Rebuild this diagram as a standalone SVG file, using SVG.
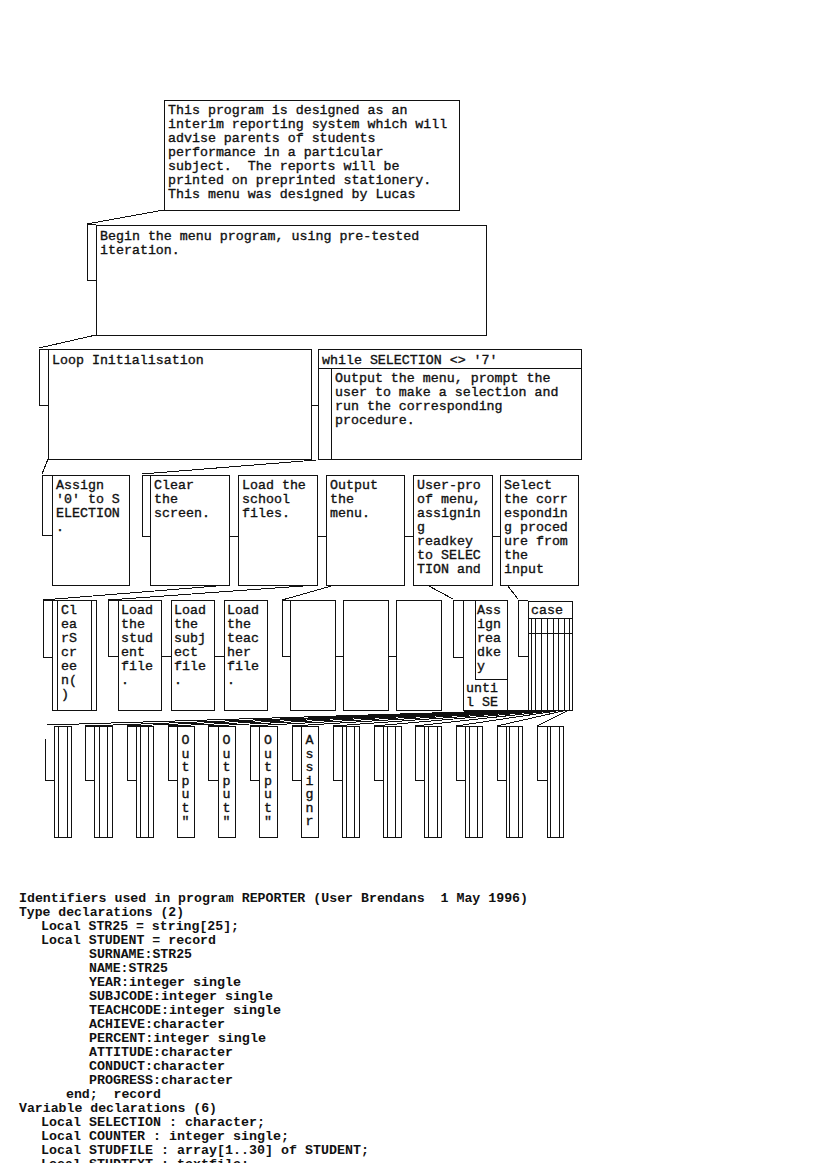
<svg xmlns="http://www.w3.org/2000/svg" width="827" height="1170" viewBox="0 0 827 1170" xml:space="preserve">
<defs>
<style>
rect, line, polyline, path { fill: none; stroke: #111; stroke-width: 1; shape-rendering: crispEdges; }
.c { fill: none; stroke: #111; stroke-width: 1; }
.bx { fill: #fff; }
text { font-family: "Liberation Mono", "DejaVu Sans Mono", monospace; font-size: 13.3px; fill: #111; stroke: #111; stroke-width: 0.35; white-space: pre; }
text.v { text-anchor: middle; }
.lst { font-family: "Liberation Mono", "DejaVu Sans Mono", monospace; font-size: 13.5px; font-weight: bold; fill: #111; stroke: none; white-space: pre; }
</style>
<clipPath id="pagecut"><rect x="0" y="0" width="827" height="1163"/></clipPath>
</defs>
<rect x="0" y="0" width="827" height="1170" style="fill:#fff;stroke:none"/>

<g id="connectors">
  <line class="c" x1="164" y1="210" x2="87" y2="224"/>
  <polyline points="96,224 87,224 87,280 96,280"/>
  <line class="c" x1="96" y1="335" x2="39" y2="348"/>
  <polyline points="48,349 39,349 39,405 48,405"/>
  <line x1="311" y1="405" x2="318" y2="405"/>
  <line class="c" x1="48" y1="459" x2="42" y2="474"/>
  <polyline points="52,475 42,475 42,535 52,535"/>
  <line class="c" x1="316" y1="460" x2="142" y2="474"/>
  <polyline points="150,475 142,475 142,536 150,536"/>
  <line x1="229" y1="536" x2="238" y2="536"/>
  <line x1="317" y1="536" x2="326" y2="536"/>
  <line x1="404" y1="536" x2="413" y2="536"/>
  <line x1="492" y1="536" x2="500" y2="536"/>
  <line class="c" x1="229" y1="585" x2="43" y2="600"/>
  <polyline points="52,600 43,600 43,657 52,657"/>
  <line class="c" x1="317" y1="585" x2="108" y2="600"/>
  <polyline points="118,600 108,600 108,656 118,656"/>
  <line x1="161" y1="656" x2="171" y2="656"/>
  <line x1="214" y1="656" x2="224" y2="656"/>
  <line class="c" x1="335" y1="585" x2="282" y2="600"/>
  <polyline points="290,600 282,600 282,656 290,656"/>
  <line x1="335" y1="656" x2="343" y2="656"/>
  <line x1="388" y1="656" x2="396" y2="656"/>
  <line class="c" x1="427" y1="585" x2="453" y2="599"/>
  <polyline points="463,600 453,600 453,657 463,657"/>
  <line class="c" x1="507" y1="585" x2="518" y2="599"/>
  <polyline points="528,600 518,600 518,656 528,656"/>
  <line class="c" x1="529" y1="710" x2="47" y2="725"/>
  <line class="c" x1="532" y1="710" x2="85" y2="726"/>
  <line class="c" x1="536" y1="710" x2="127" y2="726"/>
  <line class="c" x1="539" y1="710" x2="168" y2="726"/>
  <line class="c" x1="542" y1="710" x2="208" y2="726"/>
  <line class="c" x1="546" y1="710" x2="250" y2="726"/>
  <line class="c" x1="549" y1="710" x2="292" y2="726"/>
  <line class="c" x1="553" y1="710" x2="333" y2="726"/>
  <line class="c" x1="556" y1="710" x2="374" y2="726"/>
  <line class="c" x1="560" y1="710" x2="415" y2="726"/>
  <line class="c" x1="563" y1="710" x2="456" y2="726"/>
  <line class="c" x1="567" y1="710" x2="497" y2="726"/>
  <line class="c" x1="571" y1="709" x2="537" y2="726"/>
  <polyline points="45,739 45,780 54,780"/>
  <polyline points="94,726 85,726 85,780 94,780"/>
  <polyline points="136,726 127,726 127,780 136,780"/>
  <polyline points="177,726 168,726 168,780 177,780"/>
  <polyline points="218,726 208,726 208,780 218,780"/>
  <polyline points="259,726 250,726 250,780 259,780"/>
  <polyline points="301,726 292,726 292,780 301,780"/>
  <polyline points="342,726 333,726 333,780 342,780"/>
  <polyline points="383,726 374,726 374,780 383,780"/>
  <polyline points="424,726 415,726 415,780 424,780"/>
  <polyline points="465,726 456,726 456,780 465,780"/>
  <polyline points="506,726 497,726 497,780 506,780"/>
  <polyline points="547,726 537,726 537,780 547,780"/>
</g>

<g id="n-intro">
  <rect class="bx" x="164" y="100" width="295" height="110"/>
  <text x="168" y="114">This program is designed as an</text>
  <text x="168" y="128">interim reporting system which will</text>
  <text x="168" y="142">advise parents of students</text>
  <text x="168" y="156">performance in a particular</text>
  <text x="168" y="170">subject.  The reports will be</text>
  <text x="168" y="184">printed on preprinted stationery.</text>
  <text x="168" y="198">This menu was designed by Lucas</text>
</g>

<g id="n-begin">
  <rect class="bx" x="96" y="225" width="390" height="110"/>
  <text x="100" y="240">Begin the menu program, using pre-tested</text>
  <text x="100" y="254">iteration.</text>
</g>

<g id="n-loopinit">
  <rect class="bx" x="48" y="349" width="263" height="110"/>
  <text x="52" y="364">Loop Initialisation</text>
</g>

<g id="n-while">
  <rect class="bx" x="318" y="349" width="263" height="110"/>
  <line x1="318" y1="368" x2="581" y2="368"/>
  <text x="322" y="364">while SELECTION &lt;&gt; '7'</text>
  <rect class="bx" x="331" y="368" width="250" height="91"/>
  <text x="335" y="382">Output the menu, prompt the</text>
  <text x="335" y="396">user to make a selection and</text>
  <text x="335" y="410">run the corresponding</text>
  <text x="335" y="424">procedure.</text>
</g>

<g id="n-assign0">
  <rect class="bx" x="52" y="475" width="77" height="110"/>
  <text x="56" y="489">Assign</text>
  <text x="56" y="503">'0' to S</text>
  <text x="56" y="517">ELECTION</text>
  <text x="56" y="531">.</text>
</g>
<g id="n-clear">
  <rect class="bx" x="150" y="475" width="79" height="110"/>
  <text x="154" y="489">Clear</text>
  <text x="154" y="503">the</text>
  <text x="154" y="517">screen.</text>
</g>
<g id="n-loadschool">
  <rect class="bx" x="238" y="475" width="79" height="110"/>
  <text x="242" y="489">Load the</text>
  <text x="242" y="503">school</text>
  <text x="242" y="517">files.</text>
</g>
<g id="n-outputmenu">
  <rect class="bx" x="326" y="475" width="78" height="110"/>
  <text x="330" y="489">Output</text>
  <text x="330" y="503">the</text>
  <text x="330" y="517">menu.</text>
</g>
<g id="n-userprompt">
  <rect class="bx" x="413" y="475" width="79" height="110"/>
  <text x="417" y="489">User-pro</text>
  <text x="417" y="503">of menu,</text>
  <text x="417" y="517">assignin</text>
  <text x="417" y="531">g</text>
  <text x="417" y="545">readkey</text>
  <text x="417" y="559">to SELEC</text>
  <text x="417" y="573">TION and</text>
</g>
<g id="n-select">
  <rect class="bx" x="500" y="475" width="78" height="110"/>
  <text x="504" y="489">Select</text>
  <text x="504" y="503">the corr</text>
  <text x="504" y="517">espondin</text>
  <text x="504" y="531">g proced</text>
  <text x="504" y="545">ure from</text>
  <text x="504" y="559">the</text>
  <text x="504" y="573">input</text>
</g>

<g id="n-clearscreen">
  <rect class="bx" x="52" y="600" width="44" height="110"/>
  <line x1="57" y1="600" x2="57" y2="710"/>
  <line x1="91" y1="600" x2="91" y2="710"/>
  <text x="61" y="614">Cl</text>
  <text x="61" y="628">ea</text>
  <text x="61" y="642">rS</text>
  <text x="61" y="656">cr</text>
  <text x="61" y="670">ee</text>
  <text x="61" y="684">n(</text>
  <text x="61" y="698">)</text>
</g>
<g id="n-loadstudent">
  <rect class="bx" x="118" y="600" width="43" height="110"/>
  <text x="121" y="614">Load</text>
  <text x="121" y="628">the</text>
  <text x="121" y="642">stud</text>
  <text x="121" y="656">ent</text>
  <text x="121" y="670">file</text>
  <text x="121" y="684">.</text>
</g>
<g id="n-loadsubject">
  <rect class="bx" x="171" y="600" width="43" height="110"/>
  <text x="174" y="614">Load</text>
  <text x="174" y="628">the</text>
  <text x="174" y="642">subj</text>
  <text x="174" y="656">ect</text>
  <text x="174" y="670">file</text>
  <text x="174" y="684">.</text>
</g>
<g id="n-loadteacher">
  <rect class="bx" x="224" y="600" width="43" height="110"/>
  <text x="227" y="614">Load</text>
  <text x="227" y="628">the</text>
  <text x="227" y="642">teac</text>
  <text x="227" y="656">her</text>
  <text x="227" y="670">file</text>
  <text x="227" y="684">.</text>
</g>
<g id="n-empty1"><rect class="bx" x="290" y="600" width="45" height="110"/></g>
<g id="n-empty2"><rect class="bx" x="343" y="600" width="45" height="110"/></g>
<g id="n-empty3"><rect class="bx" x="396" y="600" width="45" height="110"/></g>
<g id="n-repeat">
  <rect class="bx" x="463" y="600" width="44" height="110"/>
  <rect class="bx" x="475" y="600" width="32" height="79"/>
  <text x="477" y="614">Ass</text>
  <text x="477" y="628">ign</text>
  <text x="477" y="642">rea</text>
  <text x="477" y="656">dke</text>
  <text x="477" y="670">y</text>
  <text x="466" y="692">unti</text>
  <text x="466" y="706">l SE</text>
</g>
<g id="n-case">
  <rect class="bx" x="528" y="601" width="44" height="109"/>
  <line x1="528" y1="618" x2="572" y2="618"/>
  <line x1="528" y1="633" x2="572" y2="633"/>
  <line x1="531" y1="618" x2="531" y2="710"/>
  <line x1="535" y1="618" x2="535" y2="710"/>
  <line x1="541" y1="618" x2="541" y2="710"/>
  <line x1="547" y1="618" x2="547" y2="710"/>
  <line x1="553" y1="618" x2="553" y2="710"/>
  <line x1="558" y1="618" x2="558" y2="710"/>
  <line x1="564" y1="618" x2="564" y2="710"/>
  <line x1="569" y1="618" x2="569" y2="710"/>
  <text x="531" y="614">case</text>
</g>

<g id="n-r5-1"><rect class="bx" x="54" y="726" width="17" height="111"/><line x1="58" y1="726" x2="58" y2="837"/><line x1="67" y1="726" x2="67" y2="837"/></g>
<g id="n-r5-2"><rect class="bx" x="94" y="726" width="18" height="111"/><line x1="99" y1="726" x2="99" y2="837"/><line x1="107" y1="726" x2="107" y2="837"/></g>
<g id="n-r5-3"><rect class="bx" x="136" y="726" width="17" height="111"/><line x1="140" y1="726" x2="140" y2="837"/><line x1="148" y1="726" x2="148" y2="837"/></g>
<g id="n-r5-4"><rect class="bx" x="177" y="726" width="17" height="111"/>
  <text class="v" x="185.5" y="744">O</text><text class="v" x="185.5" y="757.5">u</text><text class="v" x="185.5" y="771">t</text><text class="v" x="185.5" y="784.5">p</text><text class="v" x="185.5" y="798">u</text><text class="v" x="185.5" y="811.5">t</text><text class="v" x="185.5" y="825">"</text></g>
<g id="n-r5-5"><rect class="bx" x="218" y="726" width="17" height="111"/>
  <text class="v" x="226.5" y="744">O</text><text class="v" x="226.5" y="757.5">u</text><text class="v" x="226.5" y="771">t</text><text class="v" x="226.5" y="784.5">p</text><text class="v" x="226.5" y="798">u</text><text class="v" x="226.5" y="811.5">t</text><text class="v" x="226.5" y="825">"</text></g>
<g id="n-r5-6"><rect class="bx" x="259" y="726" width="18" height="111"/>
  <text class="v" x="268" y="744">O</text><text class="v" x="268" y="757.5">u</text><text class="v" x="268" y="771">t</text><text class="v" x="268" y="784.5">p</text><text class="v" x="268" y="798">u</text><text class="v" x="268" y="811.5">t</text><text class="v" x="268" y="825">"</text></g>
<g id="n-r5-7"><rect class="bx" x="301" y="726" width="17" height="111"/>
  <text class="v" x="309.5" y="744">A</text><text class="v" x="309.5" y="757.5">s</text><text class="v" x="309.5" y="771">s</text><text class="v" x="309.5" y="784.5">i</text><text class="v" x="309.5" y="798">g</text><text class="v" x="309.5" y="811.5">n</text><text class="v" x="309.5" y="825">r</text></g>
<g id="n-r5-8"><rect class="bx" x="342" y="726" width="17" height="111"/><line x1="346" y1="726" x2="346" y2="837"/><line x1="354" y1="726" x2="354" y2="837"/></g>
<g id="n-r5-9"><rect class="bx" x="383" y="726" width="18" height="111"/><line x1="387" y1="726" x2="387" y2="837"/><line x1="395" y1="726" x2="395" y2="837"/></g>
<g id="n-r5-10"><rect class="bx" x="424" y="726" width="17" height="111"/><line x1="428" y1="726" x2="428" y2="837"/><line x1="437" y1="726" x2="437" y2="837"/></g>
<g id="n-r5-11"><rect class="bx" x="465" y="726" width="17" height="111"/><line x1="469" y1="726" x2="469" y2="837"/><line x1="477" y1="726" x2="477" y2="837"/></g>
<g id="n-r5-12"><rect class="bx" x="506" y="726" width="16" height="111"/><line x1="509" y1="726" x2="509" y2="837"/><line x1="518" y1="726" x2="518" y2="837"/></g>
<g id="n-r5-13"><rect class="bx" x="547" y="726" width="16" height="111"/><line x1="550" y1="726" x2="550" y2="837"/><line x1="559" y1="726" x2="559" y2="837"/></g>

<g id="listing">
  <text class="lst" x="19" y="902" textLength="509" lengthAdjust="spacingAndGlyphs">Identifiers used in program REPORTER (User Brendans  1 May 1996)</text>
  <text class="lst" x="19" y="916" textLength="165" lengthAdjust="spacingAndGlyphs">Type declarations (2)</text>
  <text class="lst" x="41" y="930" textLength="198" lengthAdjust="spacingAndGlyphs">Local STR25 = string[25];</text>
  <text class="lst" x="41" y="944" textLength="175" lengthAdjust="spacingAndGlyphs">Local STUDENT = record</text>
  <text class="lst" x="89" y="958" textLength="103" lengthAdjust="spacingAndGlyphs">SURNAME:STR25</text>
  <text class="lst" x="89" y="972" textLength="79" lengthAdjust="spacingAndGlyphs">NAME:STR25</text>
  <text class="lst" x="89" y="986" textLength="152" lengthAdjust="spacingAndGlyphs">YEAR:integer single</text>
  <text class="lst" x="89" y="1000" textLength="184" lengthAdjust="spacingAndGlyphs">SUBJCODE:integer single</text>
  <text class="lst" x="89" y="1014" textLength="192" lengthAdjust="spacingAndGlyphs">TEACHCODE:integer single</text>
  <text class="lst" x="89" y="1028" textLength="136" lengthAdjust="spacingAndGlyphs">ACHIEVE:character</text>
  <text class="lst" x="89" y="1042" textLength="177" lengthAdjust="spacingAndGlyphs">PERCENT:integer single</text>
  <text class="lst" x="89" y="1056" textLength="144" lengthAdjust="spacingAndGlyphs">ATTITUDE:character</text>
  <text class="lst" x="89" y="1070" textLength="136" lengthAdjust="spacingAndGlyphs">CONDUCT:character</text>
  <text class="lst" x="89" y="1084" textLength="144" lengthAdjust="spacingAndGlyphs">PROGRESS:character</text>
  <text class="lst" x="66" y="1098" textLength="95" lengthAdjust="spacingAndGlyphs">end;  record</text>
  <text class="lst" x="19" y="1112" textLength="198" lengthAdjust="spacingAndGlyphs">Variable declarations (6)</text>
  <text class="lst" x="41" y="1126" textLength="224" lengthAdjust="spacingAndGlyphs">Local SELECTION : character;</text>
  <text class="lst" x="41" y="1140" textLength="248" lengthAdjust="spacingAndGlyphs">Local COUNTER : integer single;</text>
  <text class="lst" x="41" y="1154" textLength="328" lengthAdjust="spacingAndGlyphs">Local STUDFILE : array[1..30] of STUDENT;</text>
  <text class="lst" x="41" y="1168" textLength="208" lengthAdjust="spacingAndGlyphs" clip-path="url(#pagecut)">Local STUDTEXT : textfile;</text>
</g>
</svg>
